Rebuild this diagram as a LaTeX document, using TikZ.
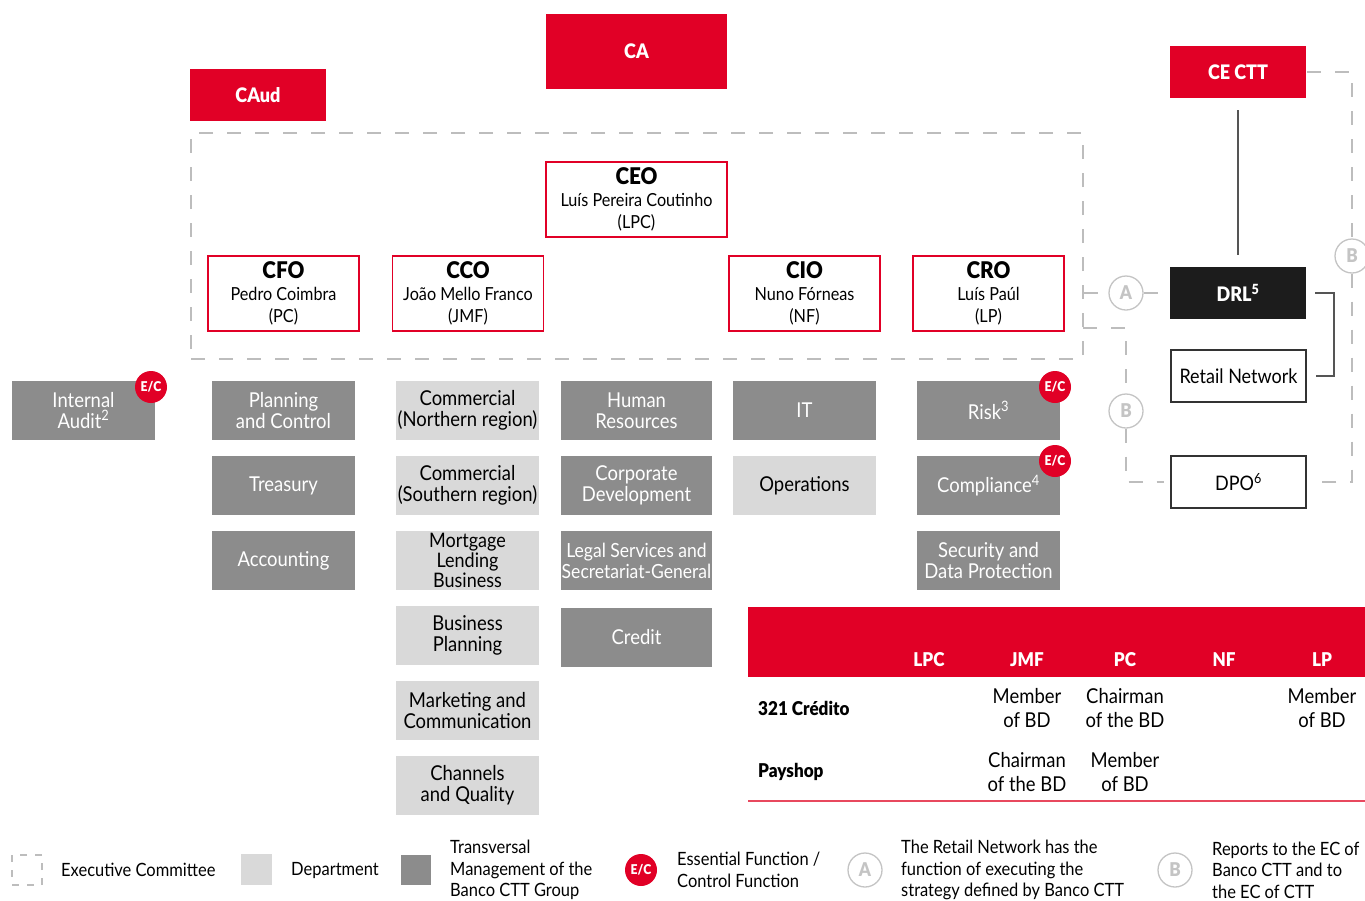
\documentclass[tikz,border=0pt]{standalone}
\usepackage{fontspec}
\setmainfont[FakeStretch=0.9,BoldFont={Lato Black}]{Lato}
\usetikzlibrary{calc}
\definecolor{ctred}{HTML}{E10026}
\definecolor{dkg}{HTML}{8C8C8C}
\definecolor{ltg}{HTML}{D9D9D9}
\definecolor{dshg}{HTML}{BDBDBD}
\definecolor{cirg}{HTML}{C4C4C4}
\definecolor{lineg}{HTML}{555555}
\definecolor{pinkred}{HTML}{E8485E}
\definecolor{drlblack}{HTML}{1C1C1C}
\begin{document}
\begin{tikzpicture}[x=1pt,y=-1pt,
  redbox/.style={fill=ctred,text=white,font=\bfseries\fontsize{20}{22}\selectfont,inner sep=0pt},
  exbox/.style={draw=ctred,line width=1.2pt,fill=white,align=center,inner sep=0pt,minimum width=151pt,minimum height=75pt,font=\fontsize{18}{22}\selectfont},
  dk/.style={fill=dkg,text=white,align=center,inner sep=0pt,minimum width=143pt,minimum height=59pt,font=\fontsize{20.5}{21}\selectfont},
  lt/.style={dk,fill=ltg,text=black},
  ecb/.style={circle,fill=ctred,text=white,minimum size=32pt,inner sep=0pt,font=\bfseries\fontsize{13.5}{13.5}\selectfont},
  abc/.style={circle,draw=cirg,line width=1.3pt,fill=white,text=cirg,minimum size=34pt,inner sep=0pt,font=\bfseries\fontsize{19}{19}\selectfont},
  dsh/.style={draw=dshg,line width=1.3pt,dash pattern=on 14pt off 14pt},
  conn/.style={draw=lineg,line width=2pt},
  wbox/.style={draw=black!80,line width=1.5pt,fill=white,minimum width=135pt,minimum height=52pt,inner sep=0pt,font=\fontsize{20}{21}\selectfont},
  lg/.style={anchor=west,align=left,inner sep=0pt,font=\fontsize{18.3}{21.5}\selectfont},
  th/.style={text=white,font=\bfseries\fontsize{19}{20}\selectfont,inner sep=0pt},
  td/.style={align=center,inner sep=0pt,font=\fontsize{20.5}{24}\selectfont},
  rl/.style={anchor=west,inner sep=0pt,font=\bfseries\fontsize{19}{20}\selectfont},
]
\useasboundingbox (0,0) rectangle (1365,900);

% top red boxes
\node[redbox,minimum width=181pt,minimum height=75pt] (ca) at (636.5,51.5) {CA};
\node[redbox,minimum width=136pt,minimum height=52pt] (caud) at (258,95) {CAud};
\node[redbox,minimum width=136pt,minimum height=52pt] (cectt) at (1238,72) {CE CTT};

% executive committee dashed box
\node[dsh,minimum width=892pt,minimum height=226pt,inner sep=0pt] (exec) at (637,246) {};

% executives
\node[exbox,minimum width=181pt] (ceo) at (636.5,199.5) {{\bfseries\fontsize{23}{23}\selectfont CEO}\\Luís Pereira Coutinho\\(LPC)};
\node[exbox] (cfo) at (283.5,293.5) {{\bfseries\fontsize{23}{23}\selectfont CFO}\\Pedro Coimbra\\(PC)};
\node[exbox] (cco) at (468,293.5) {{\bfseries\fontsize{23}{23}\selectfont CCO}\\João Mello Franco\\(JMF)};
\node[exbox] (cio) at (804.5,293.5) {{\bfseries\fontsize{23}{23}\selectfont CIO}\\Nuno Fórneas\\(NF)};
\node[exbox] (cro) at (988.5,293.5) {{\bfseries\fontsize{23}{23}\selectfont CRO}\\Luís Paúl\\(LP)};

% column 0
\node[dk] (ia) at (83.5,410.5) {Internal\\Audit\textsuperscript{2}};
% column 1
\node[dk] (pc) at (283.5,410.5) {Planning\\and Control};
\node[dk] (tr) at (283.5,485.5) {Treasury};
\node[dk] (ac) at (283.5,560.5) {Accounting};
% column 2
\node[lt] (cn) at (467.5,410.5) {Commercial\\(Northern region)};
\node[lt] (cs) at (467.5,485.5) {Commercial\\(Southern region)};
\node[lt,font=\fontsize{20}{20}\selectfont] (ml) at (467.5,560.5) {Mortgage\\Lending\\Business};
\node[lt] (bp) at (467.5,635.5) {Business\\Planning};
\node[lt] (mc) at (467.5,710.5) {Marketing and\\Communication};
\node[lt] (cq) at (467.5,785) {Channels\\and Quality};
% column 3
\node[dk,minimum width=151pt] (hr) at (636.5,410.5) {Human\\Resources};
\node[dk,minimum width=151pt] (cd) at (636.5,485.5) {Corporate\\Development};
\node[dk,minimum width=151pt,font=\fontsize{19.5}{21}\selectfont] (ls) at (636.5,560.5) {Legal Services and\\Secretariat-General};
\node[dk,minimum width=151pt] (cr) at (636.5,637) {Credit};
% column 4
\node[dk] (it) at (804.5,410.5) {IT};
\node[lt] (op) at (804.5,485.5) {Operations};
% column 5
\node[dk] (risk) at (988.5,410.5) {Risk\textsuperscript{3}};
\node[dk] (comp) at (988.5,485.5) {Compliance\textsuperscript{4}};
\node[dk] (sdp) at (988.5,560.5) {Security and\\Data Protection};

% E/C badges
\node[ecb] (ec1) at (151,387) {E/C};
\node[ecb] (ec2) at (1055,387) {E/C};
\node[ecb] (ec3) at (1055,461) {E/C};

% right column
\node[redbox,fill=drlblack,minimum width=136pt,minimum height=52pt] (drl) at (1238,293) {DRL\textsuperscript{5}};
\node[wbox] (rn) at (1238.5,376) {Retail Network};
\node[wbox] (dpo) at (1238.5,482) {DPO\textsuperscript{6}};

\draw[conn,shorten <=12pt,shorten >=12pt] (cectt) -- (drl);
\draw[conn,line width=1.6pt] ([xshift=9pt]drl.east) -- ++(19,0) coordinate (brk) |- ([xshift=9pt]rn.east);

% A / B circles and dashed links
\node[abc] (ca1) at (1126,293) {A};
\node[abc] (cb1) at (1126,411) {B};
\node[abc] (cb2) at (1352,256) {B};
\coordinate (ea) at (exec.east |- drl);
\coordinate (eb) at (1083,328);
\draw[dsh] (ea) -- (ca1);
\draw[dsh] (ca1) -- (drl);
\draw[dsh] (eb) -| (cb1);
\draw[dsh] (cb1) |- ([xshift=-6pt]dpo.west);
\draw[dsh] ([xshift=1pt]cectt.east) -| (cb2);
\draw[dsh] (cb2) |- ([xshift=9pt]dpo.east);

% table
\node[fill=ctred,minimum width=617pt,minimum height=70pt,inner sep=0pt,anchor=north west] (thead) at (748,607) {};
\node[th] (hlpc) at (929,660) {LPC};
\node[th] (hjmf) at (1027,660) {JMF};
\node[th] (hpc) at (1125,660) {PC};
\node[th] (hnf) at (1224,660) {NF};
\node[th] (hlp) at (1322,660) {LP};
\node[rl] (r1) at (758,708) {321 Crédito};
\node[rl] (r2) at (758,772) {Payshop};
\node[td] (c11) at (1027,708) {Member\\of BD};
\node[td] (c12) at (1125,708) {Chairman\\of the BD};
\node[td] (c13) at (1322,708) {Member\\of BD};
\node[td] (c21) at (1027,772) {Chairman\\of the BD};
\node[td] (c22) at (1125,772) {Member\\of BD};
\draw[pinkred,line width=2pt] (748,801) -- (1365,801);

% legend
\node[draw=dshg,line width=1.2pt,dash pattern=on 7pt off 8pt,minimum size=30pt,inner sep=0pt] (lgex) at (27,870) {};
\node[lg] (lgext) at (61,870) {Executive Committee};
\node[fill=ltg,minimum size=31pt,inner sep=0pt] (lgdep) at (256.5,869.5) {};
\node[lg] (lgdept) at (291,870) {Department};
\node[fill=dkg,minimum size=30pt,inner sep=0pt] (lgtr) at (416,870) {};
\node[lg] (lgtrt) at (450,870) {Transversal\\Management of the\\Banco CTT Group};
\node[ecb] (lgec) at (641,870) {E/C};
\node[lg] (lgect) at (677,870) {Essential Function /\\Control Function};
\node[abc] (lga) at (865,870) {A};
\node[lg] (lgat) at (901,870) {The Retail Network has the\\function of executing the\\strategy defined by Banco CTT};
\node[abc] (lgb) at (1175,870) {B};
\node[lg] (lgbt) at (1212,870) {Reports to the EC of\\Banco CTT and to\\the EC of CTT};
\end{tikzpicture}
\end{document}
